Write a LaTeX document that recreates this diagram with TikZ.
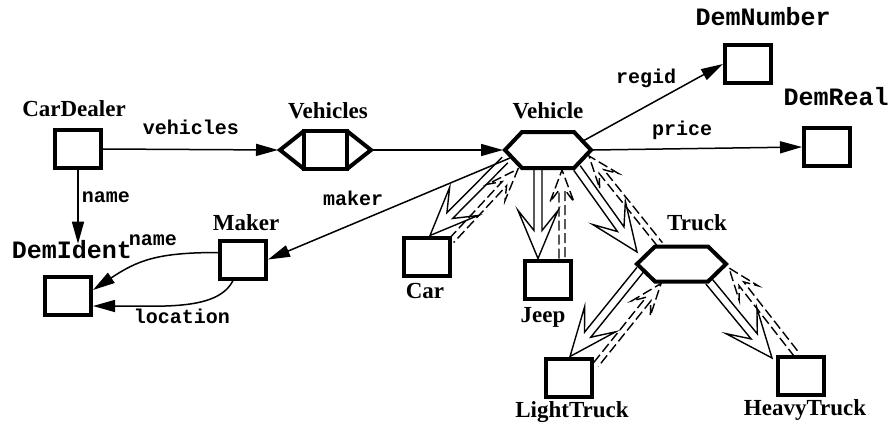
\documentclass[tikz,border=0pt]{standalone}
\usepackage{fontspec}
\setmainfont{Liberation Serif}
\setmonofont{Liberation Mono}
\usetikzlibrary{calc,arrows.meta}
\tikzset{
 cls/.style={draw, line width=4pt, minimum width=46pt, minimum height=38pt, inner sep=0pt},
 cname/.style={font=\fontsize{23}{23}\selectfont\bfseries, inner sep=0pt, anchor=base},
 tname/.style={font=\fontsize{25}{25}\selectfont\ttfamily\bfseries, inner sep=0pt, anchor=base},
 elbl/.style={font=\fontsize{20}{20}\selectfont\ttfamily\bfseries, inner sep=0pt, anchor=base},
 conn/.style={line width=1.5pt, -{Triangle[length=22pt,width=12pt]}},
 hexnode/.style={minimum width=90pt, minimum height=40pt, inner sep=0pt, outer sep=0pt},
 hexline/.style={line width=4pt, line join=miter},
 inhsolid/.style={line width=1.4pt, line join=miter},
 inhdash/.style={line width=1.4pt, dash pattern=on 10pt off 4pt},
}
\newcommand\inhArrow[7]{%
 \coordinate (hI) at ($(#2)!#5!(#1)$);
 \coordinate (hC) at ($(#2)!#3!(#1)$);
 \draw[#7] ($(#1)!#6!90:(#2)$) -- ($(hI)!#6!90:(#2)$) -- ($(hC)!#4!90:(#2)$) -- (#2)
   -- ($(hC)!#4!-90:(#2)$) -- ($(hI)!#6!-90:(#2)$) -- ($(#1)!#6!-90:(#2)$);
}
\begin{document}
\begin{tikzpicture}[x=1pt,y=-1pt]
\useasboundingbox (0,0) rectangle (893,426);
% class boxes
\node[cls] (cardealer) at (78,149) {};
\node[cls] (demnumber) at (748,64) {};
\node[cls] (demreal) at (827,147) {};
\node[cls] (demident) at (68,296) {};
\node[cls] (maker) at (243,259.5) {};
\node[cls] (car) at (426.5,256.5) {};
\node[cls] (jeep) at (548,279.5) {};
\node[cls] (lighttruck) at (569,377.5) {};
\node[cls] (heavytruck) at (801,376) {};
\node[hexnode] (vehicle) at (548,150) {};
\node[hexnode, minimum width=93pt, minimum height=39pt] (truck) at (681.5,264) {};
\node[hexnode, minimum width=95pt, minimum height=42pt] (vehicles) at (325.5,150) {};
% hexagons
\draw[hexline] ($(vehicle.west)+(2,0)$) -- ($(vehicle.north west)+(19,2)$) -- ($(vehicle.north east)+(-19,2)$)
  -- ($(vehicle.east)+(-2,0)$) -- ($(vehicle.south east)+(-19,-2)$) -- ($(vehicle.south west)+(19,-2)$) -- cycle;
\draw[hexline] ($(truck.west)+(2,0)$) -- ($(truck.north west)+(20,2)$) -- ($(truck.north east)+(-20,2)$)
  -- ($(truck.east)+(-2,0)$) -- ($(truck.south east)+(-20,-2)$) -- ($(truck.south west)+(20,-2)$) -- cycle;
\draw[hexline] ($(vehicles.north west)+(26,2)$) rectangle ($(vehicles.south east)+(-26,-2)$);
\draw[hexline] ($(vehicles.north west)+(26,2)$) -- ($(vehicles.west)+(2,0)$) -- ($(vehicles.south west)+(26,-2)$);
\draw[hexline] ($(vehicles.north east)+(-26,2)$) -- ($(vehicles.east)+(-2,0)$) -- ($(vehicles.south east)+(-26,-2)$);
% class names
\node[cname] (lcardealer) at (74,116) {CarDealer};
\node[cname] (lvehicles) at (328,118) {Vehicles};
\node[cname] (lvehicle) at (548,118) {Vehicle};
\node[cname] (lmaker) at (246,230) {Maker};
\node[cname] (lcar) at (425,298) {Car};
\node[cname] (ljeep) at (543,322) {Jeep};
\node[cname] (ltruck) at (697,230) {Truck};
\node[cname] (llighttruck) at (572,417) {LightTruck};
\node[cname] (lheavytruck) at (805,415) {HeavyTruck};
\node[tname] (ldemnumber) at (763,25) {DemNumber};
\node[tname] (ldemreal) at (836,105) {DemReal};
\node[tname] (ldemident) at (72,258) {DemIdent};
% connectors
\draw[conn] (cardealer.east) -- (vehicles.west);
\draw[conn] (vehicles.east) -- (vehicle.west);
\draw[conn] (cardealer.south) -- ($(cardealer.south |- ldemident.north)+(0,4)$);
\draw[conn] ($(vehicle.west)+(7,8)$) -- (maker.east);
\draw[conn] ($(vehicle.east)+(-10,-9)$) -- (demnumber.west);
\draw[conn] (vehicle.east) -- (demreal.west);
\draw[conn] ($(maker.west)+(0,-7)$) .. controls +(-60,0) and +(45,-30) .. ($(demident.east)+(0,-6)$);
\draw[conn] ($(maker.south)+(-10,0)$) .. controls +(-15,30) and +(70,0) .. ($(demident.east)+(0,10)$);
% edge labels
\node[elbl] (evehicles) at (191,134) {vehicles};
\node[elbl] (ename1) at (106,202) {name};
\node[elbl] (emaker) at (353,205) {maker};
\node[elbl] (eregid) at (646,83) {regid};
\node[elbl] (eprice) at (682,135) {price};
\node[elbl] (ename2) at (153,245) {name};
\node[elbl] (elocation) at (182,323) {location};
% inheritance end points
\coordinate (vcS) at ($(vehicle.west)+(2,10)$);
\coordinate (vcT) at ($(car.north)+(3.5,0)$);
\coordinate (cvS) at ($(car.north east)+(0,5)$);
\coordinate (cvT) at ($(vehicle.west)+(15,19)$);
\coordinate (vjS) at ($(vehicle.south)+(-10,0)$);
\coordinate (vjT) at ($(jeep.north)+(-10,0)$);
\coordinate (jvS) at ($(jeep.north)+(14,0)$);
\coordinate (jvT) at ($(vehicle.south)+(14,0)$);
\coordinate (vtS) at ($(vehicle.south east)+(-16,-2)$);
\coordinate (vtT) at ($(truck.west)+(2,-12)$);
\coordinate (tvS) at ($(truck.north west)+(25,0)$);
\coordinate (tvT) at ($(vehicle.east)+(-4,6)$);
\coordinate (tlS) at ($(truck.west)+(5,6)$);
\coordinate (tlT) at ($(lighttruck.north)+(1,0)$);
\coordinate (ltS) at ($(lighttruck.north east)+(2,8)$);
\coordinate (ltT) at ($(truck.south west)+(26,0)$);
\coordinate (thS) at ($(truck.south east)+(-19,-2)$);
\coordinate (thT) at ($(heavytruck.north west)+(-4,3)$);
\coordinate (htS) at ($(heavytruck.north)+(-4,0)$);
\coordinate (htT) at ($(truck.east)+(1,4)$);
% inheritance arrows
\inhArrow{vcS}{vcT}{48pt}{20pt}{28pt}{4pt}{inhsolid}
\inhArrow{cvS}{cvT}{32pt}{12pt}{20pt}{3pt}{inhdash}
\inhArrow{vjS}{vjT}{48pt}{20pt}{28pt}{4pt}{inhsolid}
\inhArrow{jvS}{jvT}{32pt}{12pt}{20pt}{3pt}{inhdash}
\inhArrow{vtS}{vtT}{48pt}{20pt}{28pt}{4pt}{inhsolid}
\inhArrow{tvS}{tvT}{32pt}{12pt}{20pt}{3pt}{inhdash}
\inhArrow{tlS}{tlT}{48pt}{20pt}{28pt}{4pt}{inhsolid}
\inhArrow{ltS}{ltT}{32pt}{12pt}{20pt}{3pt}{inhdash}
\inhArrow{thS}{thT}{48pt}{20pt}{28pt}{4pt}{inhsolid}
\inhArrow{htS}{htT}{32pt}{12pt}{20pt}{3pt}{inhdash}
\end{tikzpicture}
\end{document}
